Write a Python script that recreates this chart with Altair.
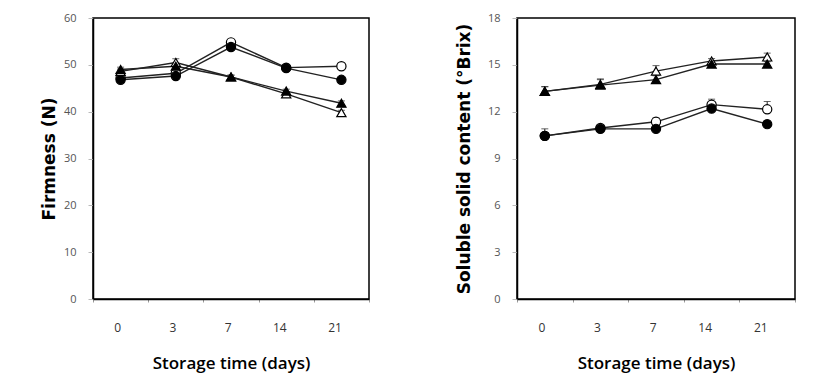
import altair as alt
import pandas as pd

days = ["0", "3", "7", "14", "21"]
series = ["open_circle", "filled_circle", "open_triangle", "filled_triangle"]

# Firmness (N)
firm_open_circle = [47.2, 48.2, 54.8, 49.4, 49.7]
firm_filled_circle = [46.8, 47.6, 53.8, 49.3, 46.8]
firm_open_triangle = [48.6, 50.5, 47.4, 43.8, 39.8]
firm_filled_triangle = [49.0, 49.7, 47.4, 44.4, 41.8]
firm_err_open_circle = [0.4, 0.5, 0.6, 0.4, 0.5]
firm_err_filled_circle = [0.4, 0.5, 0.5, 0.4, 0.4]
firm_err_open_triangle = [0.5, 0.8, 0.4, 0.5, 0.5]
firm_err_filled_triangle = [0.5, 0.5, 0.4, 0.4, 0.5]

# Soluble solid content (°Brix)
ssc_open_circle = [10.45, 10.95, 11.35, 12.45, 12.15]
ssc_filled_circle = [10.45, 10.9, 10.9, 12.2, 11.2]
ssc_open_triangle = [13.3, 13.75, 14.6, 15.25, 15.5]
ssc_filled_triangle = [13.3, 13.7, 14.05, 15.05, 15.05]
ssc_err_open_circle = [0.45, 0.15, 0.25, 0.35, 0.5]
ssc_err_filled_circle = [0.2, 0.15, 0.15, 0.2, 0.15]
ssc_err_open_triangle = [0.3, 0.35, 0.35, 0.15, 0.25]
ssc_err_filled_triangle = [0.3, 0.35, 0.25, 0.15, 0.15]


def build(vals, errs):
    rows = []
    for s, v, e in zip(series, vals, errs):
        for d, y, er in zip(days, v, e):
            rows.append({"day": d, "series": s, "value": y, "top": y + er})
    return pd.DataFrame(rows)


firm_df = build(
    [firm_open_circle, firm_filled_circle, firm_open_triangle, firm_filled_triangle],
    [firm_err_open_circle, firm_err_filled_circle, firm_err_open_triangle, firm_err_filled_triangle],
)
ssc_df = build(
    [ssc_open_circle, ssc_filled_circle, ssc_open_triangle, ssc_filled_triangle],
    [ssc_err_open_circle, ssc_err_filled_circle, ssc_err_open_triangle, ssc_err_filled_triangle],
)

LABEL_FONT = "Open Sans"
TITLE_FONT = "DejaVu Sans"
XTITLE_FONT = "Open Sans"


def panel(df, ymax, ystep, ytitle, width, ytitle_pad):
    x = alt.X(
        "day:N",
        sort=days,
        scale=alt.Scale(paddingInner=0, paddingOuter=0),
        axis=alt.Axis(
            title="Storage time (days)",
            labelAngle=0,
            tickBand="extent",
            tickSize=3,
            tickColor="#999",
            labelPadding=25,
            labelFontSize=12,
            labelColor="#333",
            labelFont=LABEL_FONT,
            titleFont=XTITLE_FONT,
            titleFontSize=17,
            titleFontWeight=600,
            titleColor="black",
            titlePadding=22,
            domainColor="black",
            domainWidth=1.5,
        ),
    )
    y_scale = alt.Scale(domain=[0, ymax], nice=False, zero=True)
    y_axis = alt.Axis(
        title=ytitle,
        values=list(range(0, ymax + 1, ystep)),
        tickSize=5,
        tickColor="#bbb",
        labelPadding=12,
        labelFontSize=11,
        labelColor="#555",
        labelFont=LABEL_FONT,
        titleFont=TITLE_FONT,
        titleFontSize=17,
        titleFontWeight="bold",
        titleColor="black",
        titlePadding=ytitle_pad,
        grid=False,
        domainColor="black",
        domainWidth=1.5,
    )
    base = alt.Chart(df)
    lines = base.mark_line(color="#222", strokeWidth=1.4).encode(
        x=x,
        y=alt.Y("value:Q", scale=y_scale, axis=y_axis),
        detail="series:N",
    )
    err_rule = base.mark_rule(color="#222", strokeWidth=1).encode(
        x=alt.X("day:N", sort=days), y="value:Q", y2="top:Q"
    )
    err_cap = base.mark_tick(color="#222", thickness=1, size=7, orient="horizontal").encode(
        x=alt.X("day:N", sort=days), y="top:Q"
    )
    pts = base.mark_point(filled=True, stroke="black", strokeWidth=1.2, opacity=1, size=85).encode(
        x=alt.X("day:N", sort=days),
        y="value:Q",
        shape=alt.Shape(
            "series:N",
            scale=alt.Scale(domain=series, range=["circle", "circle", "triangle-up", "triangle-up"]),
            legend=None,
        ),
        fill=alt.Fill(
            "series:N",
            scale=alt.Scale(domain=series, range=["white", "black", "white", "black"]),
            legend=None,
        ),
    )
    return alt.layer(err_rule, err_cap, lines, pts).properties(width=width, height=281)


left = panel(firm_df, 60, 10, "Firmness (N)", 276, 5)
right = panel(ssc_df, 18, 3, "Soluble solid content (°Brix)", 278, 14)

chart = (
    alt.hconcat(left, right, spacing=83)
    .resolve_scale(shape="independent", fill="independent")
    .configure_view(stroke="black", strokeWidth=1.5)
    .properties(padding={"left": 31, "top": 3, "right": 5, "bottom": 5}, background="white")
)

chart.save("out.html", embed_options={"renderer": "svg", "actions": False})
